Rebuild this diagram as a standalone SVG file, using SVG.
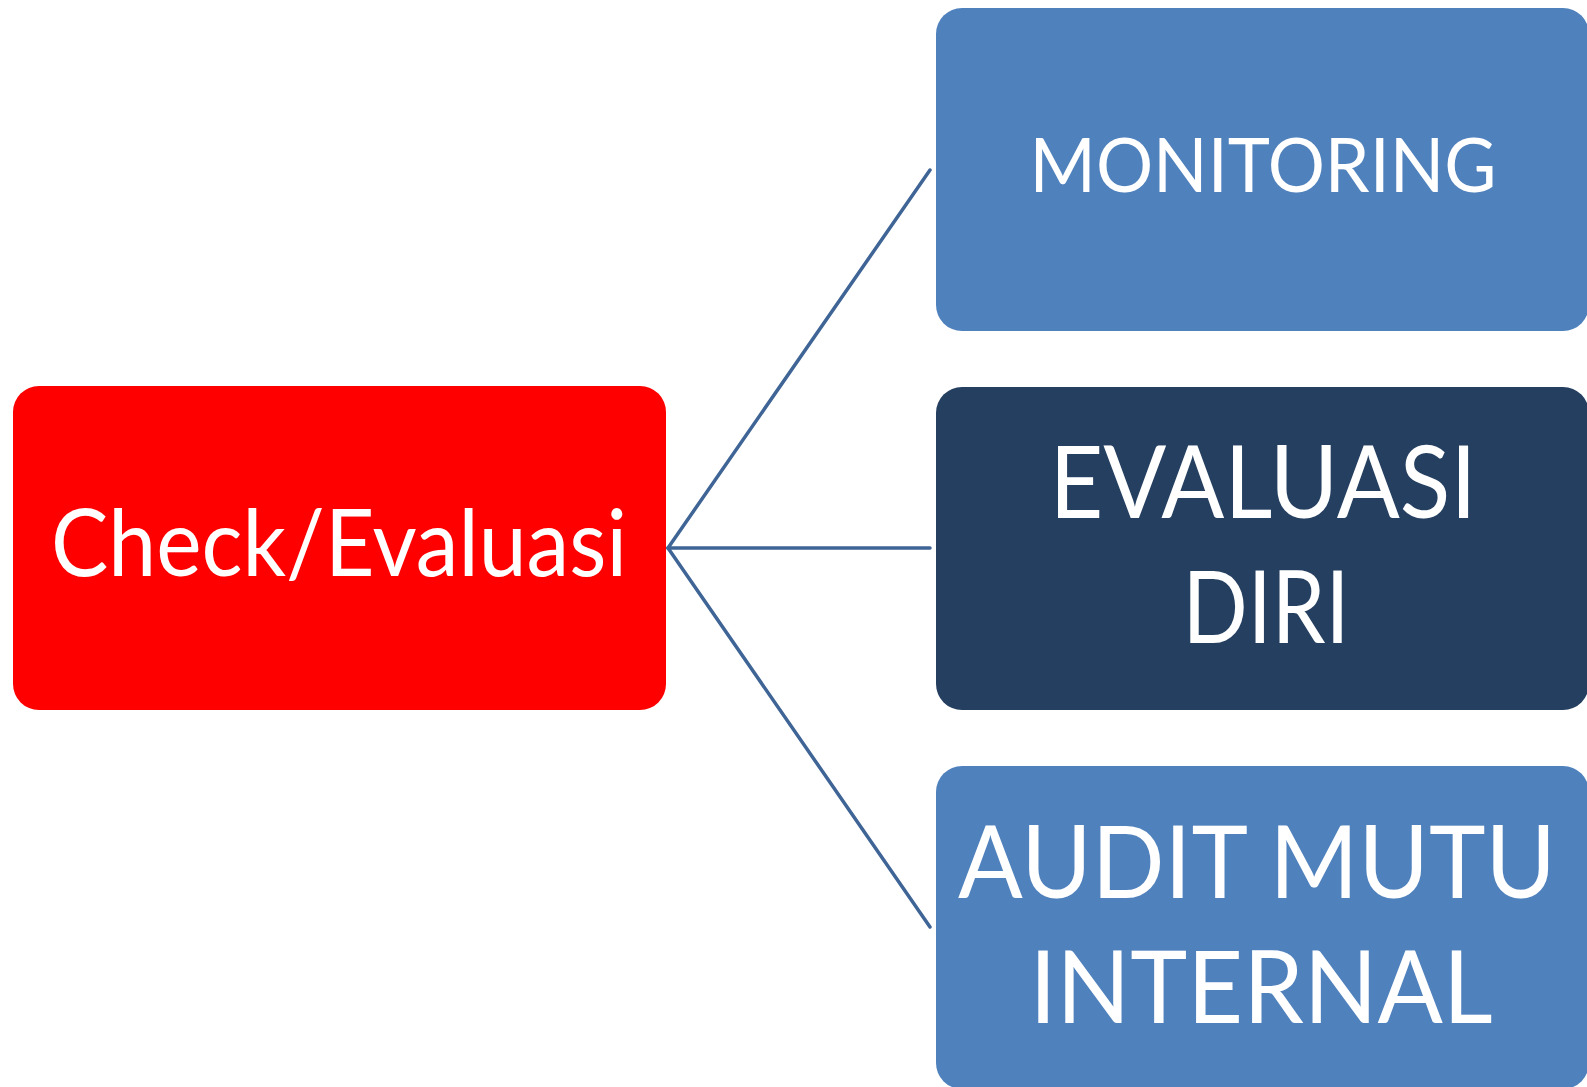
<svg xmlns="http://www.w3.org/2000/svg" width="1587" height="1087" viewBox="0 0 1587 1087">
<style>
.lbl{font-family:Lato,"Open Sans","Liberation Sans",sans-serif;fill:#ffffff;text-anchor:middle}
.conn{stroke:#3F6496;stroke-width:3.5;fill:none;stroke-linecap:round}
</style>
<rect x="0" y="0" width="1587" height="1087" fill="#ffffff"/>
<g id="connectors">
<line class="conn" x1="668" y1="548" x2="930" y2="170"/>
<line class="conn" x1="668" y1="548" x2="930" y2="548"/>
<line class="conn" x1="668" y1="548" x2="930" y2="927"/>
</g>
<g id="check">
<rect x="13" y="386" width="653" height="324" rx="26" fill="#FE0000"/>
<text class="lbl" x="339" y="576" font-size="93" textLength="576" lengthAdjust="spacingAndGlyphs">Check/Evaluasi</text>
</g>
<g id="monitoring">
<rect x="936" y="8" width="653" height="323" rx="26" fill="#4F81BD"/>
<text class="lbl" x="1263" y="192" font-size="75" textLength="467" lengthAdjust="spacingAndGlyphs">MONITORING</text>
</g>
<g id="evaluasi-diri">
<rect x="936" y="387" width="653" height="323" rx="26" fill="#243F60"/>
<text class="lbl" x="1263" y="518" font-size="101" textLength="427" lengthAdjust="spacingAndGlyphs">EVALUASI</text>
<text class="lbl" x="1266" y="643" font-size="101" textLength="167" lengthAdjust="spacingAndGlyphs">DIRI</text>
</g>
<g id="audit">
<rect x="936" y="766" width="653" height="323" rx="26" fill="#4F81BD"/>
<text class="lbl" x="1257" y="898" font-size="101" textLength="598" lengthAdjust="spacingAndGlyphs">AUDIT MUTU</text>
<text class="lbl" x="1261" y="1023" font-size="101" textLength="463" lengthAdjust="spacingAndGlyphs">INTERNAL</text>
</g>
</svg>
